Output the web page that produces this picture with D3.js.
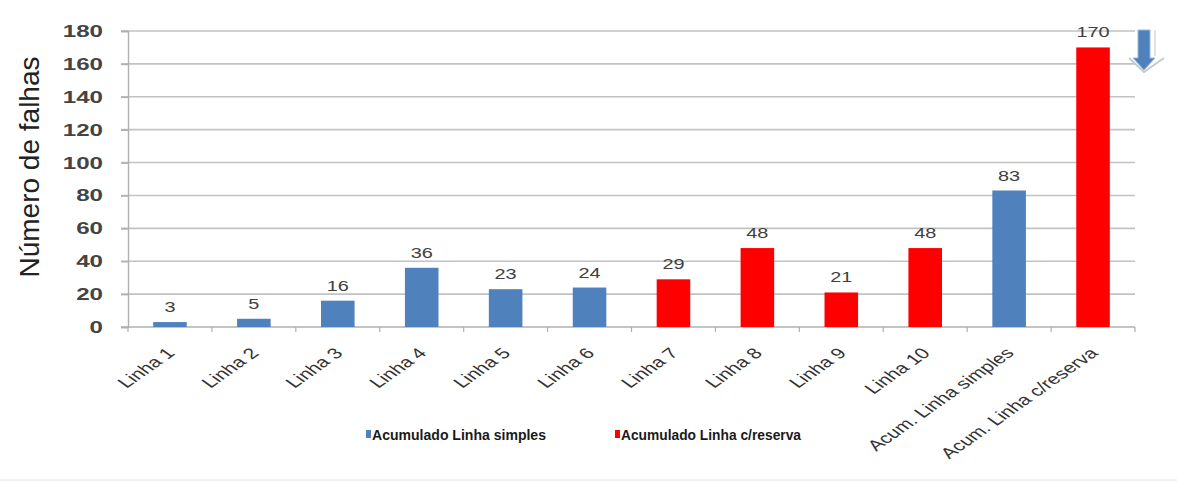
<!DOCTYPE html>
<html>
<head>
<meta charset="utf-8">
<script src="https://cdn.jsdelivr.net/npm/d3@7"></script>
<style>
  html, body { margin: 0; padding: 0; background: #fff; }
  svg { display: block; }
</style>
</head>
<body>
<svg id="chart" width="1177" height="483"></svg>
<script>
// Failure counts per line and the two accumulated totals
const categories = ["Linha 1", "Linha 2", "Linha 3", "Linha 4", "Linha 5", "Linha 6",
  "Linha 7", "Linha 8", "Linha 9", "Linha 10", "Acum. Linha simples", "Acum. Linha c/reserva"];
const values = [3, 5, 16, 36, 23, 24, 29, 48, 21, 48, 83, 170];
const groups = ["simples", "simples", "simples", "simples", "simples", "simples",
  "reserva", "reserva", "reserva", "reserva", "simples", "reserva"];
const seriesNames = ["Acumulado Linha simples", "Acumulado Linha c/reserva"];
const seriesKeys = ["simples", "reserva"];
const yTicks = [0, 20, 40, 60, 80, 100, 120, 140, 160, 180];
const yTitle = "Número de falhas";

const W = 1177, H = 483;
const m = { left: 128, right: 42, top: 31, bottom: 156 };
const SX = 1.42; // horizontal widening applied to the chart's upright text
const FONT = "Liberation Sans, Arial, sans-serif";
const svg = d3.select("#chart");

const color = d3.scaleOrdinal().domain(seriesKeys).range(["#4F81BD", "#FF0000"]);

const x = d3.scaleBand().domain(categories).range([m.left, W - m.right]).paddingInner(0.6).paddingOuter(0.3);
const y = d3.scaleLinear().domain([0, 180]).range([H - m.bottom, m.top]);
const y0 = y(0);

// Horizontal gridlines
svg.append("g")
  .selectAll("line").data(yTicks.filter(d => d > 0)).join("line")
  .attr("x1", m.left - 7).attr("x2", W - m.right)
  .attr("y1", d => y(d)).attr("y2", d => y(d))
  .attr("stroke", "#c2c2c2").attr("stroke-width", 1.6);

// Y axis
const yAxis = svg.append("g")
  .attr("transform", `translate(${m.left},0)`)
  .call(d3.axisLeft(y).tickValues(yTicks).tickSize(7).tickFormat(""));
yAxis.select(".domain").attr("stroke", "#b0b0b0").attr("stroke-width", 1.4);
yAxis.selectAll(".tick line").attr("stroke", "#b0b0b0").attr("stroke-width", 1.6);

svg.append("g").selectAll("text").data(yTicks).join("text")
  .attr("transform", d => `translate(103,${y(d) + 6}) scale(${SX},1)`)
  .attr("text-anchor", "end")
  .attr("font-family", FONT).attr("font-size", 17).attr("font-weight", "bold")
  .attr("fill", "#444")
  .text(d => d);

// X axis with ticks at category boundaries
const xAxisG = svg.append("g").attr("transform", `translate(0,${y0})`);
xAxisG.append("line").attr("x1", m.left - 7).attr("x2", W - m.right)
  .attr("stroke", "#b0b0b0").attr("stroke-width", 1.4);
xAxisG.selectAll("line.tk").data(d3.range(categories.length + 1)).join("line")
  .attr("class", "tk")
  .attr("x1", i => m.left + i * (W - m.right - m.left) / categories.length)
  .attr("x2", i => m.left + i * (W - m.right - m.left) / categories.length)
  .attr("y1", 0).attr("y2", 5)
  .attr("stroke", "#b0b0b0").attr("stroke-width", 1.2);
xAxisG.selectAll("text").data(categories).join("text")
  .attr("transform", d => `translate(${x(d) + x.bandwidth() / 2 + 6},${27}) scale(${SX},1) rotate(-45)`)
  .attr("text-anchor", "end")
  .attr("font-family", FONT)
  .attr("font-size", 15).attr("fill", "#333")
  .text(d => d);

// Bars
svg.append("g").selectAll("rect").data(categories).join("rect")
  .attr("x", d => x(d))
  .attr("width", x.bandwidth())
  .attr("y", (d, i) => y(values[i]))
  .attr("height", (d, i) => y0 - y(values[i]))
  .attr("fill", (d, i) => color(groups[i]));

// Value labels
svg.append("g").selectAll("text").data(categories).join("text")
  .attr("transform", (d, i) => `translate(${x(d) + x.bandwidth() / 2},${y(values[i]) - 10}) scale(${SX},1)`)
  .attr("text-anchor", "middle")
  .attr("font-family", FONT)
  .attr("font-size", 14).attr("fill", "#404040")
  .text((d, i) => values[i]);

// Y axis title
svg.append("text")
  .attr("transform", `translate(39,${167}) rotate(-90)`)
  .attr("text-anchor", "middle")
  .attr("font-family", FONT)
  .attr("font-size", 28).attr("fill", "#222")
  .text(yTitle);

// Legend
const legendX = [366, 615];
const legendW = [174, 180];
const legend = svg.append("g").selectAll("g").data(seriesKeys).join("g")
  .attr("transform", (d, i) => `translate(${legendX[i]},436)`);
legend.append("rect").attr("x", 0).attr("y", -6).attr("width", 5).attr("height", 8)
  .attr("fill", d => color(d));
legend.append("text").attr("x", 6).attr("y", 4)
  .attr("font-family", FONT)
  .attr("font-weight", "bold").attr("font-size", 15).attr("fill", "#1a1a1a")
  .attr("textLength", (d, i) => legendW[i]).attr("lengthAdjust", "spacingAndGlyphs")
  .text((d, i) => seriesNames[i]);

// Down arrow beside the tallest bar
const arrow = svg.append("g").attr("transform", "translate(1144,30)");
arrow.append("path")
  .attr("d", "M-15,28 L0,42 L20,28")
  .attr("fill", "none").attr("stroke", "#c4cad3").attr("stroke-width", 2);
arrow.append("path")
  .attr("d", "M-6,0 L6,0 L6,28 L11,28 L0,40 L-11,28 L-6,28 Z")
  .attr("fill", "#4F81BD").attr("stroke", "#9cb6d6").attr("stroke-width", 1);
arrow.append("line").attr("x1", 11).attr("x2", 11).attr("y1", 0).attr("y2", 26)
  .attr("stroke", "#d4d8de").attr("stroke-width", 1.5);

// Frame line at bottom
svg.append("line").attr("x1", 0).attr("x2", W).attr("y1", 480).attr("y2", 480)
  .attr("stroke", "#e2e2e2").attr("stroke-width", 1);
</script>
</body>
</html>
